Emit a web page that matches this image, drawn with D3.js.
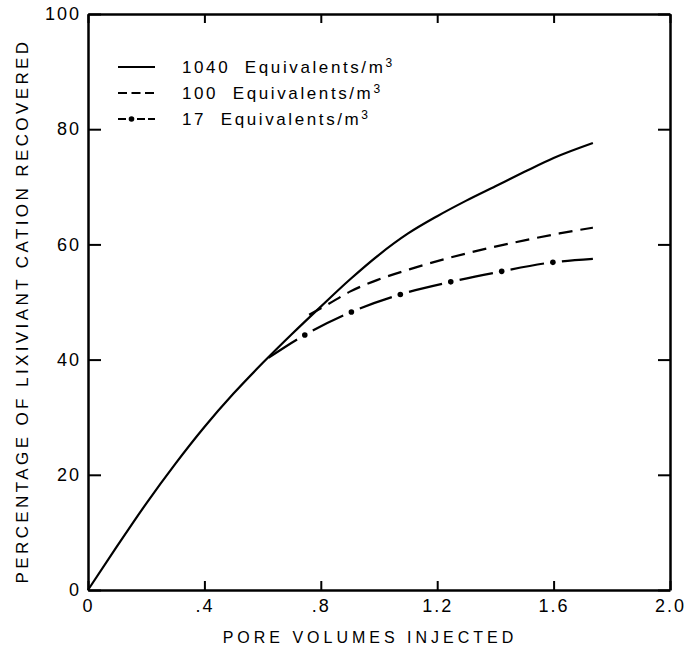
<!DOCTYPE html>
<html><head><meta charset="utf-8">
<script src="https://cdn.jsdelivr.net/npm/d3@7"></script>
<style>
body{margin:0;background:#fff;}
text{font-family:"Liberation Sans",Arial,sans-serif;fill:#000;}
</style></head>
<body><svg id="c" width="696" height="649"></svg>
<script>
// ---- data ----
const xTicks = [0, 0.4, 0.8, 1.2, 1.6, 2.0];
const xTickLabels = ["0", ".4", ".8", "1.2", "1.6", "2.0"];
const yTicks = [0, 20, 40, 60, 80, 100];
const yTickLabels = ["0", "20", "40", "60", "80", "100"];
const seriesNames = ["1040 Equivalents/m", "100 Equivalents/m", "17 Equivalents/m"];
// pore volumes injected vs percentage recovered
const x1040 = [0, 0.1, 0.2, 0.3, 0.4, 0.5, 0.6, 0.7, 0.8, 0.9, 1.0, 1.1, 1.2, 1.3, 1.4, 1.5, 1.6, 1.735];
const y1040 = [0, 7.6, 15, 21.9, 28.3, 34.1, 39.4, 44.4, 49.2, 53.9, 58.2, 61.9, 64.9, 67.6, 70.1, 72.6, 75, 77.6];
const x100 = [0.76, 0.821, 0.9, 0.993, 1.107, 1.244, 1.347, 1.5, 1.62, 1.735];
const y100 = [47.8, 49.5, 51.8, 53.8, 55.7, 57.7, 59.0, 60.7, 61.9, 62.9];
const x17 = [0.62, 0.732, 0.897, 1.079, 1.247, 1.409, 1.584, 1.735];
const y17 = [40.3, 43.9, 48.1, 51.4, 53.5, 55.2, 56.8, 57.5];

const svg = d3.select("#c");
const x = d3.scaleLinear().domain([0, 2]).range([88, 670]);
const y = d3.scaleLinear().domain([0, 100]).range([590, 14]);

function styleAxis(g){
  g.select(".domain").attr("stroke","#000").attr("stroke-width",2.5);
  g.selectAll(".tick line").attr("stroke","#000").attr("stroke-width",2);
  g.selectAll(".tick text").style("font-size","18px").attr("letter-spacing","2px").attr("font-family","Liberation Sans, Arial, sans-serif");
}
svg.append("g").attr("transform",`translate(0,${y(0)})`)
  .call(d3.axisBottom(x).tickValues(xTicks).tickSizeInner(-9).tickSizeOuter(0).tickPadding(9)
    .tickFormat((d,i)=>xTickLabels[i])).call(styleAxis);
svg.append("g").attr("transform",`translate(0,${y(100)})`)
  .call(d3.axisTop(x).tickValues(xTicks).tickSizeInner(-9).tickSizeOuter(0).tickFormat(""))
  .call(styleAxis);
svg.append("g").attr("transform",`translate(${x(0)},0)`)
  .call(d3.axisLeft(y).tickValues(yTicks).tickSizeInner(-13).tickSizeOuter(0).tickPadding(7)
    .tickFormat((d,i)=>yTickLabels[i])).call(styleAxis);
svg.append("g").attr("transform",`translate(${x(2)},0)`)
  .call(d3.axisRight(y).tickValues(yTicks).tickSizeInner(-12).tickSizeOuter(0).tickFormat(""))
  .call(styleAxis);

const line = d3.line().x(d=>x(d[0])).y(d=>y(d[1])).curve(d3.curveMonotoneX);

svg.append("path").datum(x1040.map((v,i)=>[v,y1040[i]])).attr("d",line)
  .attr("fill","none").attr("stroke","#000").attr("stroke-width",2.2);
svg.append("path").datum(x100.map((v,i)=>[v,y100[i]])).attr("d",line)
  .attr("fill","none").attr("stroke","#000").attr("stroke-width",2.2).attr("stroke-dasharray","14,8");
const p17 = svg.append("path").datum(x17.map((v,i)=>[v,y17[i]])).attr("d",line)
  .attr("fill","none").attr("stroke","#000").attr("stroke-width",2.2).attr("stroke-dasharray","34,18");
const L = p17.node().getTotalLength();
for(let s = 43; s < L; s += 52){
  const pt = p17.node().getPointAtLength(s);
  svg.append("circle").attr("cx",pt.x).attr("cy",pt.y).attr("r",2.8).attr("fill","#000");
}

// legend
const lg = svg.append("g");
const rows = [67, 93, 119];
lg.append("line").attr("x1",118).attr("x2",155).attr("y1",rows[0]).attr("y2",rows[0]).attr("stroke","#000").attr("stroke-width",2.2);
lg.append("line").attr("x1",118).attr("x2",155).attr("y1",rows[1]).attr("y2",rows[1]).attr("stroke","#000").attr("stroke-width",2).attr("stroke-dasharray","9,4.5");
lg.append("line").attr("x1",118).attr("x2",126).attr("y1",rows[2]).attr("y2",rows[2]).attr("stroke","#000").attr("stroke-width",2);
lg.append("line").attr("x1",137).attr("x2",155).attr("y1",rows[2]).attr("y2",rows[2]).attr("stroke","#000").attr("stroke-width",2).attr("stroke-dasharray","8,3");
lg.append("circle").attr("cx",131.5).attr("cy",rows[2]).attr("r",2.8).attr("fill","#000");
seriesNames.forEach((n,i)=>{
  const t = lg.append("text").attr("x",182).attr("y",rows[i]).attr("dy","0.36em")
    .style("font-size","17px").attr("letter-spacing","2.6px").attr("xml:space","preserve");
  t.append("tspan").text(n.replace(" ", "  "));
  t.append("tspan").attr("dy","-0.55em").style("font-size","12px").text("3");
});

// axis titles
svg.append("text").attr("x",370).attr("y",637).attr("dy","0.36em").attr("text-anchor","middle")
  .style("font-size","16px").attr("letter-spacing","4px").text("PORE VOLUMES INJECTED");
svg.append("text").attr("transform","translate(22,311) rotate(-90)").attr("dy","0.36em").attr("text-anchor","middle")
  .style("font-size","17px").attr("letter-spacing","3.4px").text("PERCENTAGE OF LIXIVIANT CATION RECOVERED");
</script></body></html>
